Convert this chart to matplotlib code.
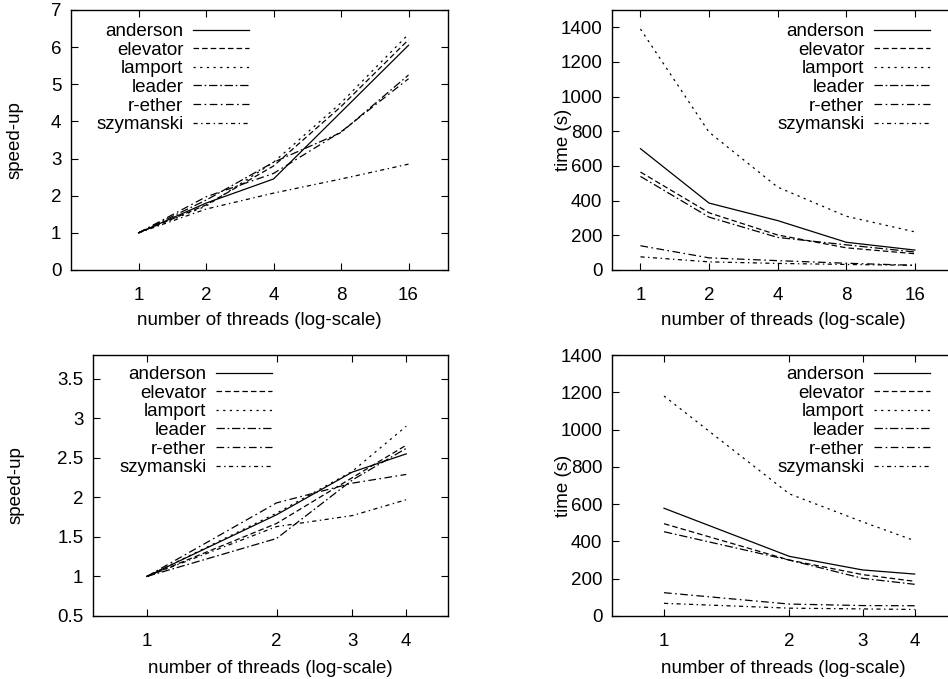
import matplotlib
matplotlib.use("Agg")
import matplotlib.pyplot as plt
from matplotlib.ticker import FixedLocator, NullLocator, FixedFormatter

plt.rcParams['font.family'] = ['Liberation Sans', 'DejaVu Sans']
plt.rcParams['font.size'] = 13.5
plt.rcParams['lines.scale_dashes'] = False

names = ['anderson', 'elevator', 'lamport', 'leader', 'r-ether', 'szymanski']
styles = ['-', (0, (4, 2.2)), (0, (1.6, 3.2)), (0, (6, 2, 1.2, 2)),
          (0, (5.5, 2.5, 1.2, 2.5)), (0, (3, 2.5, 1, 2.5))]

# top row: 1..16 threads
threads_a = [1, 2, 4, 8, 16]
speedup_a = {
    'anderson':  [1, 1.80, 2.45, 4.25, 6.05],
    'elevator':  [1, 1.75, 2.80, 4.40, 6.20],
    'lamport':   [1, 1.72, 2.90, 4.50, 6.35],
    'leader':    [1, 1.88, 2.90, 3.70, 5.25],
    'r-ether':   [1, 1.97, 2.60, 3.72, 5.15],
    'szymanski': [1, 1.64, 2.07, 2.45, 2.85],
}
time_a = {
    'anderson':  [700, 386, 285, 160, 115],
    'elevator':  [565, 330, 202, 128, 94],
    'lamport':   [1390, 795, 478, 310, 220],
    'leader':    [540, 305, 188, 145, 104],
    'r-ether':   [140, 70, 54, 39, 27],
    'szymanski': [76, 47, 38, 32, 27],
}

# bottom row: 1..4 threads
threads_b = [1, 2, 3, 4]
speedup_b = {
    'anderson':  [1, 1.78, 2.32, 2.55],
    'elevator':  [1, 1.67, 2.25, 2.66],
    'lamport':   [1, 1.80, 2.33, 2.90],
    'leader':    [1, 1.48, 2.22, 2.62],
    'r-ether':   [1, 1.93, 2.18, 2.29],
    'szymanski': [1, 1.63, 1.77, 1.97],
}
time_b = {
    'anderson':  [578, 320, 247, 225],
    'elevator':  [495, 300, 222, 186],
    'lamport':   [1180, 655, 505, 404],
    'leader':    [452, 300, 202, 170],
    'r-ether':   [125, 64, 56, 55],
    'szymanski': [68, 42, 38, 35],
}

W, H = 948, 679
fig = plt.figure(figsize=(W / 100, H / 100), dpi=100)


def make_axes(l, r, t, b):
    return fig.add_axes([l / W, 1 - b / H, (r - l) / W, (b - t) / H])


def draw(ax, xs, data, xlim, ylim, yticks, ylabel, ylab_x, xlab_y, leg_anchor):
    for n, ls in zip(names, styles):
        ax.plot(xs, data[n], color='black', lw=0.9, linestyle=ls, label=n)
    ax.set_xscale('log', base=2)
    ax.set_xlim(*xlim)
    ax.set_ylim(*ylim)
    ax.xaxis.set_major_locator(FixedLocator(xs))
    ax.xaxis.set_major_formatter(FixedFormatter([str(x) for x in xs]))
    ax.xaxis.set_minor_locator(NullLocator())
    ax.set_yticks(yticks)
    ax.set_yticklabels([('%g' % v) for v in yticks])
    ax.tick_params(direction='in', top=True, right=True, length=5, width=0.8)
    ax.tick_params(axis='x', pad=12)
    ax.tick_params(axis='y', pad=7)
    for s in ax.spines.values():
        s.set_linewidth(1.0)
    ax.set_xlabel('number of threads (log-scale)')
    ax.set_ylabel(ylabel)
    ax.xaxis.set_label_coords(0.5, xlab_y)
    ax.yaxis.set_label_coords(ylab_x, 0.5)
    ax.legend(loc='upper right', bbox_to_anchor=leg_anchor, frameon=False,
              markerfirst=False, handlelength=3.0, handletextpad=0.5,
              labelspacing=0.08, borderpad=0, borderaxespad=0)


ax1 = make_axes(71, 448, 10, 270)
draw(ax1, threads_a, speedup_a, (0.5, 24), (0, 7), range(0, 8), 'speed-up',
     -0.125, -0.16, ((249 - 71) / 377, 0.95))

ax2 = make_axes(612, 955, 10, 270)
draw(ax2, threads_a, time_a, (0.75, 24), (0, 1500), range(0, 1401, 200), 'time (s)',
     -0.116, -0.16, ((930 - 612) / 343, 0.95))

ax3 = make_axes(93, 448, 355, 616)
draw(ax3, threads_b, speedup_b, (0.75, 5), (0.5, 3.8), [0.5, 1, 1.5, 2, 2.5, 3, 3.5],
     'speed-up', -0.194, -0.17, ((272 - 93) / 355, 0.958))

ax4 = make_axes(612, 955, 355, 616)
draw(ax4, threads_b, time_b, (0.75, 5), (0, 1400), range(0, 1401, 200), 'time (s)',
     -0.116, -0.17, ((930 - 612) / 343, 0.958))

fig.savefig('out.png', dpi=100)
